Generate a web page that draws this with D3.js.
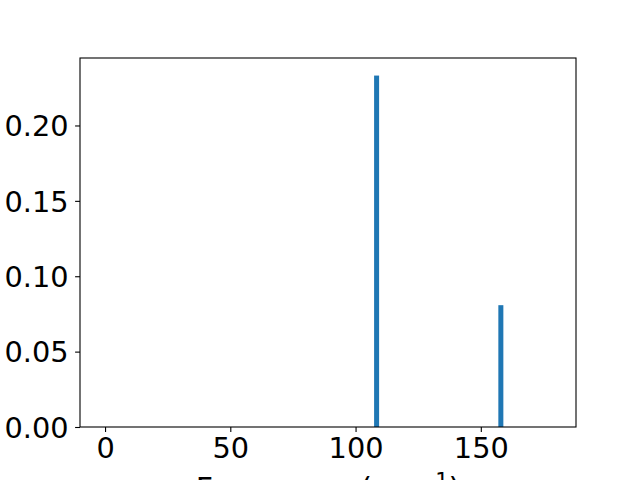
<!DOCTYPE html>
<html>
<head>
<meta charset="utf-8">
<script src="https://cdn.jsdelivr.net/npm/d3@7"></script>
<style>
  body { margin: 0; background: #fff; }
  svg { display: block; }
  text { font-family: "DejaVu Sans", sans-serif; }
</style>
</head>
<body>
<svg width="640" height="480"></svg>
<script>
// 데이터
const freqs = [108.4, 158];
const amps = [0.2331, 0.0808];
const xTicks = [0, 50, 100, 150];
const yTicks = [0, 0.05, 0.10, 0.15, 0.20];

const svg = d3.select("svg");
const plotL = 80, plotR = 576, plotT = 58, plotB = 427;
const fs = 28.8;
const labelFs = 30;

const x = d3.scaleLinear().domain([-10, 188]).range([plotL, plotR]);
const y = d3.scaleLinear().domain([0, d3.max(amps) * 1.05]).range([plotB, plotT]);

// 막대
svg.selectAll("rect.bar")
  .data(freqs)
  .enter().append("rect")
  .attr("class", "bar")
  .attr("x", (d) => x(d - 1))
  .attr("width", (d) => x(d + 1) - x(d - 1))
  .attr("y", (d, i) => y(amps[i]))
  .attr("height", (d, i) => plotB - y(amps[i]))
  .attr("fill", "#1f77b4");

// 축
const xAxis = svg.append("g")
  .attr("transform", `translate(0,${plotB})`)
  .call(d3.axisBottom(x).tickValues(xTicks).tickSize(4.9).tickPadding(4.9).tickFormat(d3.format("d")));
const yAxis = svg.append("g")
  .attr("transform", `translate(${plotL},0)`)
  .call(d3.axisLeft(y).tickValues(yTicks).tickSize(4.9).tickPadding(6.5).tickFormat(d3.format(".2f")));

[xAxis, yAxis].forEach((g) => {
  g.select(".domain").remove();
  g.selectAll(".tick line").attr("stroke", "#000").attr("stroke-width", 1.1);
  g.selectAll(".tick text")
    .attr("fill", "#000")
    .style("font-family", "'DejaVu Sans', sans-serif")
    .style("font-size", fs + "px");
});
yAxis.selectAll(".tick text").attr("dy", "0.36em");
xAxis.selectAll(".tick text").attr("dy", "0.74em");

// 테두리
svg.append("rect")
  .attr("x", plotL).attr("y", plotT)
  .attr("width", plotR - plotL).attr("height", plotB - plotT)
  .attr("fill", "none").attr("stroke", "#000").attr("stroke-width", 1.1);

// x축 라벨 (그림 아래쪽에서 잘림)
const lbl = svg.append("text")
  .attr("x", (plotL + plotR) / 2)
  .attr("y", 498.6)
  .attr("text-anchor", "middle")
  .style("font-size", labelFs + "px");
lbl.append("tspan").text("Frequency (");
lbl.append("tspan").style("font-style", "italic").text("cm");
lbl.append("tspan").attr("dy", -10.5).style("font-size", (labelFs * 0.7) + "px").text("\u22121");
lbl.append("tspan").attr("dy", 10.5).text(")");
</script>
</body>
</html>
